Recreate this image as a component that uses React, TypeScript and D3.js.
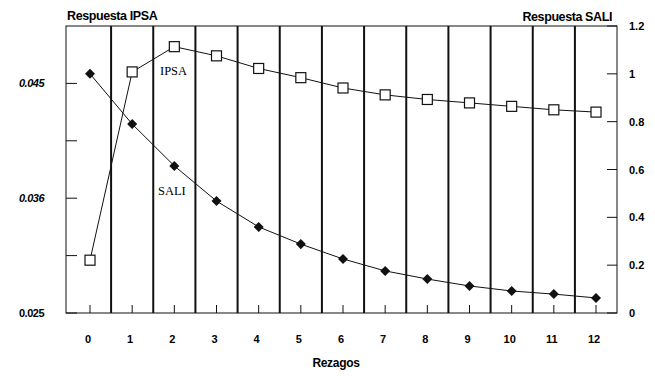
import { useRef, useEffect } from 'react';
import * as d3 from 'd3';

const LAGS = [0, 1, 2, 3, 4, 5, 6, 7, 8, 9, 10, 11, 12];
const IPSA = [0.0296, 0.046, 0.0482, 0.0474, 0.0463, 0.0455, 0.0446, 0.044, 0.0436, 0.0433, 0.043, 0.0427, 0.0425];
const SALI = [1.0, 0.79, 0.615, 0.468, 0.36, 0.288, 0.226, 0.176, 0.142, 0.113, 0.092, 0.079, 0.063];
const LEFT_TICKS = [0.025, 0.03, 0.035, 0.04, 0.045];
const LEFT_LABELS = ['0.025', '', '0.036', '', '0.045'];
const RIGHT_TICKS = [0, 0.2, 0.4, 0.6, 0.8, 1, 1.2];

export default function App() {
  const svgRef = useRef<SVGSVGElement>(null);

  useEffect(() => {
    if (!svgRef.current) return;
    const svg = d3.select(svgRef.current);
    svg.selectAll('*').remove();

    const left = 66;
    const right = 617;
    const top = 26;
    const bottom = 313;
    const font = '"Liberation Sans", Arial, sans-serif';

    const x = d3.scalePoint<number>().domain(LAGS).range([90, 596]);
    const yL = d3.scaleLinear().domain([0.025, 0.05]).range([bottom, top]);
    const yR = d3.scaleLinear().domain([0, 1.2]).range([bottom, top]);

    // frame
    svg.append('rect')
      .attr('x', left).attr('y', top)
      .attr('width', right - left).attr('height', bottom - top)
      .attr('fill', 'none').attr('stroke', '#111').attr('stroke-width', 1);

    // thick separators between lags
    const step = x.step();
    svg.append('g')
      .selectAll('line')
      .data(LAGS.slice(0, -1))
      .join('line')
      .attr('x1', (d) => (x(d) as number) + step / 2)
      .attr('x2', (d) => (x(d) as number) + step / 2)
      .attr('y1', top)
      .attr('y2', bottom)
      .attr('stroke', '#111')
      .attr('stroke-width', 2);

    // bottom ticks (inside)
    svg.append('g')
      .selectAll('line')
      .data(LAGS)
      .join('line')
      .attr('x1', (d) => x(d) as number)
      .attr('x2', (d) => x(d) as number)
      .attr('y1', bottom)
      .attr('y2', bottom - 8)
      .attr('stroke', '#111');

    svg.append('g')
      .selectAll('text')
      .data(LAGS)
      .join('text')
      .attr('x', (d) => (x(d) as number) - 2)
      .attr('y', 343)
      .attr('text-anchor', 'middle')
      .attr('font-family', font)
      .attr('font-weight', 'bold')
      .attr('font-size', 11)
      .text((d) => String(d));

    // left axis
    svg.append('g')
      .selectAll('line')
      .data(LEFT_TICKS)
      .join('line')
      .attr('x1', left)
      .attr('x2', left + 11)
      .attr('y1', (d) => yL(d))
      .attr('y2', (d) => yL(d))
      .attr('stroke', '#111');
    svg.append('g')
      .selectAll('text')
      .data(LEFT_TICKS)
      .join('text')
      .attr('x', 44)
      .attr('y', (d) => yL(d) + 4)
      .attr('text-anchor', 'end')
      .attr('font-family', font)
      .attr('font-weight', 'bold')
      .attr('font-style', (_d, i) => (i === 0 ? 'normal' : 'italic'))
      .attr('font-size', 11)
      .attr('letter-spacing', -0.5)
      .text((_d, i) => LEFT_LABELS[i]);

    // right axis
    svg.append('g')
      .selectAll('line')
      .data(RIGHT_TICKS)
      .join('line')
      .attr('x1', right - 10)
      .attr('x2', right)
      .attr('y1', (d) => yR(d))
      .attr('y2', (d) => yR(d))
      .attr('stroke', '#111');
    svg.append('g')
      .selectAll('text')
      .data(RIGHT_TICKS)
      .join('text')
      .attr('x', 629)
      .attr('y', (d) => yR(d) + 4)
      .attr('font-family', font)
      .attr('font-weight', 'bold')
      .attr('font-size', 11)
      .text((d) => d3.format('~g')(d));

    // titles
    svg.append('text')
      .attr('x', 67).attr('y', 20)
      .attr('font-family', font).attr('font-weight', 'bold').attr('font-size', 12.5)
      .attr('letter-spacing', -0.4)
      .text('Respuesta IPSA');
    svg.append('text')
      .attr('x', 612).attr('y', 21)
      .attr('text-anchor', 'end')
      .attr('font-family', font).attr('font-weight', 'bold').attr('font-size', 12.5)
      .attr('letter-spacing', -0.4)
      .text('Respuesta SALI');
    svg.append('text')
      .attr('x', 336).attr('y', 367)
      .attr('text-anchor', 'middle')
      .attr('font-family', font).attr('font-weight', 'bold').attr('font-size', 12)
      .attr('letter-spacing', -0.3)
      .text('Rezagos');

    // SALI line (right axis)
    const saliLine = d3.line<number>()
      .x((_d, i) => x(LAGS[i]) as number)
      .y((d) => yR(d));
    svg.append('path')
      .datum(SALI)
      .attr('fill', 'none')
      .attr('stroke', '#111')
      .attr('stroke-width', 1)
      .attr('d', saliLine);
    svg.append('g')
      .selectAll('path')
      .data(SALI)
      .join('path')
      .attr('d', d3.symbol().type(d3.symbolDiamond2).size(64))
      .attr('transform', (d, i) => `translate(${x(LAGS[i])},${yR(d)})`)
      .attr('fill', '#111');

    // IPSA line (left axis)
    const ipsaLine = d3.line<number>()
      .x((_d, i) => x(LAGS[i]) as number)
      .y((d) => yL(d));
    svg.append('path')
      .datum(IPSA)
      .attr('fill', 'none')
      .attr('stroke', '#111')
      .attr('stroke-width', 1)
      .attr('d', ipsaLine);
    svg.append('g')
      .selectAll('rect')
      .data(IPSA)
      .join('rect')
      .attr('x', (_d, i) => (x(LAGS[i]) as number) - 5)
      .attr('y', (d) => yL(d) - 5)
      .attr('width', 10)
      .attr('height', 10)
      .attr('fill', '#fff')
      .attr('stroke', '#111')
      .attr('stroke-width', 1.2);

    // series labels
    svg.append('text')
      .attr('x', 160).attr('y', 75)
      .attr('font-family', '"Liberation Serif", "Times New Roman", serif')
      .attr('font-size', 12.5)
      .text('IPSA');
    svg.append('text')
      .attr('x', 158).attr('y', 195)
      .attr('font-family', '"Liberation Serif", "Times New Roman", serif')
      .attr('font-size', 12.5)
      .text('SALI');
  }, []);

  return (
    <svg
      ref={svgRef}
      width={655}
      height={376}
      style={{ position: 'absolute', left: 0, top: 0, background: '#fff' }}
    />
  );
}
